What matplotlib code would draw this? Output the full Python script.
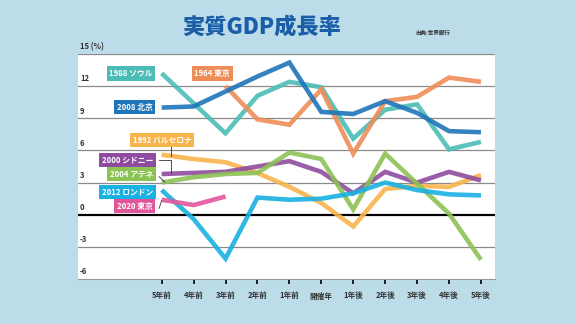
import numpy as np
import matplotlib.pyplot as plt

plt.rcParams['font.family'] = ['Noto Sans CJK JP', 'DejaVu Sans']

# x categories
periods = ["5年前", "4年前", "3年前", "2年前", "1年前", "開催年",
           "1年後", "2年後", "3年後", "4年後", "5年後"]

tokyo_1964 = [None, None, 12.0, 8.9, 8.4, 11.7, 5.7, 10.6, 11.0, 12.8, 12.4]
seoul_1988 = [13.2, None, 7.6, 11.1, 12.4, 11.9, 7.1, 9.8, 10.3, 6.1, 6.8]
barcelona_1992 = [5.6, 5.2, 4.9, 3.9, 2.6, 1.1, -1.1, 2.4, 2.7, 2.6, 3.7]
sydney_2000 = [3.8, 3.9, 4.0, 4.5, 5.0, 4.0, 2.0, 4.0, 3.0, 4.0, 3.2]
athens_2004 = [3.0, 3.5, 3.8, 3.9, 5.8, 5.2, 0.5, 5.7, 2.9, 0.1, -4.2]
beijing_2008 = [10.0, 10.1, 11.5, 12.9, 14.2, 9.6, 9.4, 10.6, 9.5, 7.8, 7.7]
london_2012 = [2.3, -0.4, -4.1, 1.6, 1.4, 1.5, 2.0, 3.0, 2.3, 1.9, 1.8]
tokyo_2020 = [1.4, 0.9, 1.7]

yticks = [-6, -3, 0, 3, 6, 9, 12, 15]

series = [
    # label, values, color, label box centre (x, y)
    ("1988 ソウル", seoul_1988, "#4cbdb6", (-0.96, 13.2)),
    ("1964 東京", tokyo_1964, "#ef8d58", (1.58, 13.2)),
    ("2008 北京", beijing_2008, "#1f75b9", (-0.84, 10.05)),
    ("1992 バルセロナ", barcelona_1992, "#f8b44c", (0.01, 6.95)),
    ("2000 シドニー", sydney_2000, "#8f4b9f", (-1.06, 5.1)),
    ("2004 アテネ", athens_2004, "#8dc255", (-0.93, 3.8)),
    ("2012 ロンドン", london_2012, "#18b1e2", (-1.06, 2.1)),
    ("2020 東京", tokyo_2020, "#e2559b", (-0.84, 0.8)),
]

fig = plt.figure(figsize=(5.76, 3.24), dpi=100)
fig.patch.set_facecolor("#bcdcea")
ax = fig.add_axes([78 / 576, 1 - 279 / 324, 417 / 576, 225 / 324])
ax.set_facecolor("white")

x = np.arange(len(periods))
ax.set_xlim(-2.62, 10.44)
ax.set_ylim(-6, 15)

# grid lines
for v in yticks:
    if v == 0:
        ax.axhline(v, color="black", lw=1.6, zorder=1)
    elif v != -6:
        ax.axhline(v, color="#8a8a8a", lw=0.9, zorder=1)
    lab = "15 (%)" if v == 15 else str(v)
    ax.annotate(lab, (0.005, v), xycoords=("axes fraction", "data"),
                xytext=(0, 2), textcoords="offset points",
                fontsize=5.5, color="#333333", fontweight="bold",
                ha="left", va="bottom", annotation_clip=False)

for name, vals, col, (bx, by) in series:
    y = np.array([np.nan if v is None else v for v in vals], dtype=float)
    xs = x[:len(y)]
    ok = ~np.isnan(y)
    ax.plot(xs[ok], y[ok], color=col, lw=3.3, alpha=0.9, solid_joinstyle="miter",
            solid_capstyle="butt", zorder=3)
    ax.text(bx, by, name, color="white", fontsize=5.6, fontweight="bold",
            ha="center", va="center", zorder=5,
            bbox=dict(boxstyle="square,pad=0.35", fc=col, ec="none"))

# connector lines from label boxes
ax.plot([0.29, 0.29], [6.45, 5.45], color="#333333", lw=0.6, zorder=4)
ax.plot([-0.08, 0.3, 0.3], [5.1, 5.1, 3.85], color="#333333", lw=0.6, zorder=4)
ax.plot([-0.08, 0.1], [3.55, 3.05], color="#333333", lw=0.6, zorder=4)
ax.plot([-0.08, 0.0], [0.6, 1.3], color="#333333", lw=0.6, zorder=4)

# axes styling
for s in ["left", "right", "top"]:
    ax.spines[s].set_visible(False)
ax.spines["bottom"].set_color("#9a9a9a")
ax.spines["bottom"].set_linewidth(0.8)
ax.set_yticks([])
ax.set_xticks(x)
ax.set_xticklabels([])
ax.tick_params(axis="x", direction="out", length=3.5, width=1.2,
               color="black")
for xi, lab in zip(x, periods):
    ax.annotate(lab, (xi, 0), xycoords=("data", "axes fraction"),
                xytext=(0, -14), textcoords="offset points",
                fontsize=5.5, color="#333333", fontweight="bold",
                ha="center", va="baseline", annotation_clip=False)

fig.text(262 / 576, 1 - 27 / 324, "実質GDP成長率", fontsize=16, fontweight="heavy",
         color="#1b5ea8", ha="center", va="center")
fig.text(433 / 576, 1 - 33 / 324, "出典:世界銀行", fontsize=4, fontweight="bold",
         color="#333333", ha="center", va="center")

fig.savefig("out.png", dpi=100, facecolor=fig.get_facecolor())
